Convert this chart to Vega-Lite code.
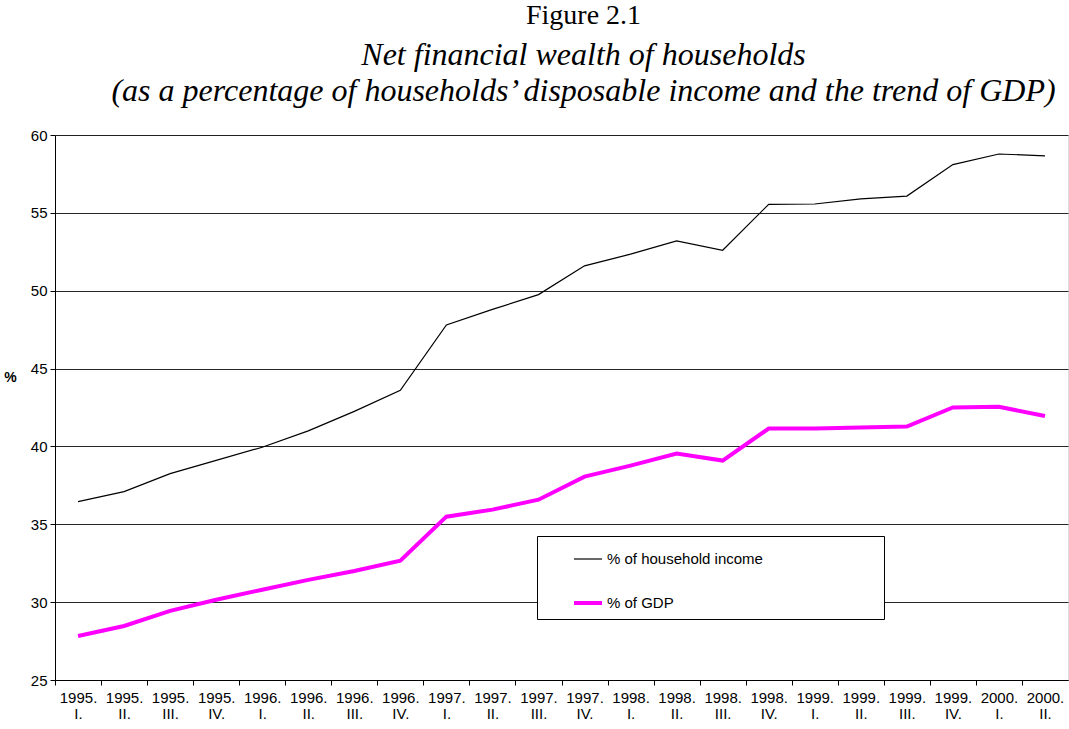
{
  "$schema": "https://vega.github.io/schema/vega-lite/v6.json",
  "autosize": "none",
  "width": 1013,
  "height": 545,
  "padding": {"left": 55, "top": 135, "right": 1, "bottom": 49},
  "background": "white",
  "title": {
    "text": "Figure 2.1",
    "subtitle": ["Net financial wealth of households", "(as a percentage of households’ disposable income and the trend of GDP)"],
    "font": "Liberation Serif",
    "fontSize": 28,
    "fontWeight": "normal",
    "color": "black",
    "subtitleFont": "Liberation Serif",
    "subtitleFontSize": 32,
    "subtitleFontStyle": "italic",
    "subtitleColor": "black",
    "subtitleLineHeight": 36,
    "subtitlePadding": 10,
    "anchor": "middle",
    "dx": 22,
    "offset": 21
  },
  "data": {
    "values": [
      {"quarter": "1995. I.", "series": "% of household income", "value": 36.45},
      {"quarter": "1995. II.", "series": "% of household income", "value": 37.1},
      {"quarter": "1995. III.", "series": "% of household income", "value": 38.25},
      {"quarter": "1995. IV.", "series": "% of household income", "value": 39.1},
      {"quarter": "1996. I.", "series": "% of household income", "value": 39.95},
      {"quarter": "1996. II.", "series": "% of household income", "value": 41.0},
      {"quarter": "1996. III.", "series": "% of household income", "value": 42.25},
      {"quarter": "1996. IV.", "series": "% of household income", "value": 43.6},
      {"quarter": "1997. I.", "series": "% of household income", "value": 47.8},
      {"quarter": "1997. II.", "series": "% of household income", "value": 48.8},
      {"quarter": "1997. III.", "series": "% of household income", "value": 49.75},
      {"quarter": "1997. IV.", "series": "% of household income", "value": 51.6},
      {"quarter": "1998. I.", "series": "% of household income", "value": 52.35},
      {"quarter": "1998. II.", "series": "% of household income", "value": 53.2},
      {"quarter": "1998. III.", "series": "% of household income", "value": 52.6},
      {"quarter": "1998. IV.", "series": "% of household income", "value": 55.55},
      {"quarter": "1999. I.", "series": "% of household income", "value": 55.57},
      {"quarter": "1999. II.", "series": "% of household income", "value": 55.9},
      {"quarter": "1999. III.", "series": "% of household income", "value": 56.08},
      {"quarter": "1999. IV.", "series": "% of household income", "value": 58.1},
      {"quarter": "2000. I.", "series": "% of household income", "value": 58.78},
      {"quarter": "2000. II.", "series": "% of household income", "value": 58.66},
      {"quarter": "1995. I.", "series": "% of GDP", "value": 27.83},
      {"quarter": "1995. II.", "series": "% of GDP", "value": 28.47},
      {"quarter": "1995. III.", "series": "% of GDP", "value": 29.44},
      {"quarter": "1995. IV.", "series": "% of GDP", "value": 30.15},
      {"quarter": "1996. I.", "series": "% of GDP", "value": 30.8},
      {"quarter": "1996. II.", "series": "% of GDP", "value": 31.43},
      {"quarter": "1996. III.", "series": "% of GDP", "value": 32.0},
      {"quarter": "1996. IV.", "series": "% of GDP", "value": 32.66},
      {"quarter": "1997. I.", "series": "% of GDP", "value": 35.49},
      {"quarter": "1997. II.", "series": "% of GDP", "value": 35.94},
      {"quarter": "1997. III.", "series": "% of GDP", "value": 36.58},
      {"quarter": "1997. IV.", "series": "% of GDP", "value": 38.06},
      {"quarter": "1998. I.", "series": "% of GDP", "value": 38.77},
      {"quarter": "1998. II.", "series": "% of GDP", "value": 39.54},
      {"quarter": "1998. III.", "series": "% of GDP", "value": 39.09},
      {"quarter": "1998. IV.", "series": "% of GDP", "value": 41.15},
      {"quarter": "1999. I.", "series": "% of GDP", "value": 41.15},
      {"quarter": "1999. II.", "series": "% of GDP", "value": 41.22},
      {"quarter": "1999. III.", "series": "% of GDP", "value": 41.28},
      {"quarter": "1999. IV.", "series": "% of GDP", "value": 42.5},
      {"quarter": "2000. I.", "series": "% of GDP", "value": 42.55},
      {"quarter": "2000. II.", "series": "% of GDP", "value": 41.95}
    ]
  },
  "mark": {"type": "line", "strokeJoin": "miter"},
  "encoding": {
    "x": {
      "field": "quarter",
      "type": "ordinal",
      "sort": null,
      "bandPosition": 0.5,
      "scale": {"type": "band", "paddingInner": 0, "paddingOuter": 0},
      "axis": {
        "title": null,
        "tickOffset": -23.02,
        "labelOffset": 23.02,
        "labelAngle": 0,
        "labelExpr": "split(datum.label, ' ')",
        "labelFont": "Liberation Sans",
        "labelFontSize": 15,
        "labelColor": "black",
        "labelPadding": 5,
        "labelLineHeight": 16,
        "domainColor": "black",
        "tickColor": "black",
        "tickSize": 5,
        "grid": false
      }
    },
    "y": {
      "field": "value",
      "type": "quantitative",
      "scale": {"domain": [25, 60], "nice": false, "zero": false},
      "axis": {
        "values": [25, 30, 35, 40, 45, 50, 55, 60],
        "title": "%",
        "titleAngle": 0,
        "titleFont": "Liberation Sans",
        "titleFontSize": 14,
        "titleFontWeight": "bold",
        "titleColor": "black",
        "titleX": -45,
        "titleY": 242,
        "titleAlign": "center",
        "titleBaseline": "middle",
        "labelFont": "Liberation Sans",
        "labelFontSize": 15,
        "labelColor": "black",
        "labelPadding": 3,
        "domainColor": "black",
        "tickColor": "black",
        "tickSize": 5,
        "grid": true,
        "gridColor": "black",
        "gridWidth": 1,
        "gridOpacity": 0.85
      }
    },
    "color": {
      "field": "series",
      "type": "nominal",
      "scale": {"domain": ["% of household income", "% of GDP"], "range": ["black", "#FF00FF"]},
      "legend": {
        "title": null,
        "orient": "none",
        "legendX": 482,
        "legendY": 401,
        "fillColor": "white",
        "strokeColor": "black",
        "padding": 8,
        "symbolType": "stroke",
        "symbolSize": 784,
        "symbolOffset": 27,
        "labelFont": "Liberation Sans",
        "labelFontSize": 15,
        "labelColor": "black",
        "labelOffset": 3,
        "rowPadding": 20,
        "labelExpr": "datum.label + '\u00a0\u00a0\u00a0\u00a0\u00a0\u00a0\u00a0\u00a0\u00a0\u00a0\u00a0\u00a0\u00a0\u00a0\u00a0\u00a0\u00a0\u00a0\u00a0\u00a0\u00a0\u00a0\u00a0\u00a0\u00a0\u00a0\u00a0\u200b'",
        "labelLimit": 400
      }
    },
    "strokeWidth": {
      "field": "series",
      "type": "nominal",
      "scale": {"domain": ["% of household income", "% of GDP"], "range": [1.2, 4]},
      "legend": null
    }
  }
}
